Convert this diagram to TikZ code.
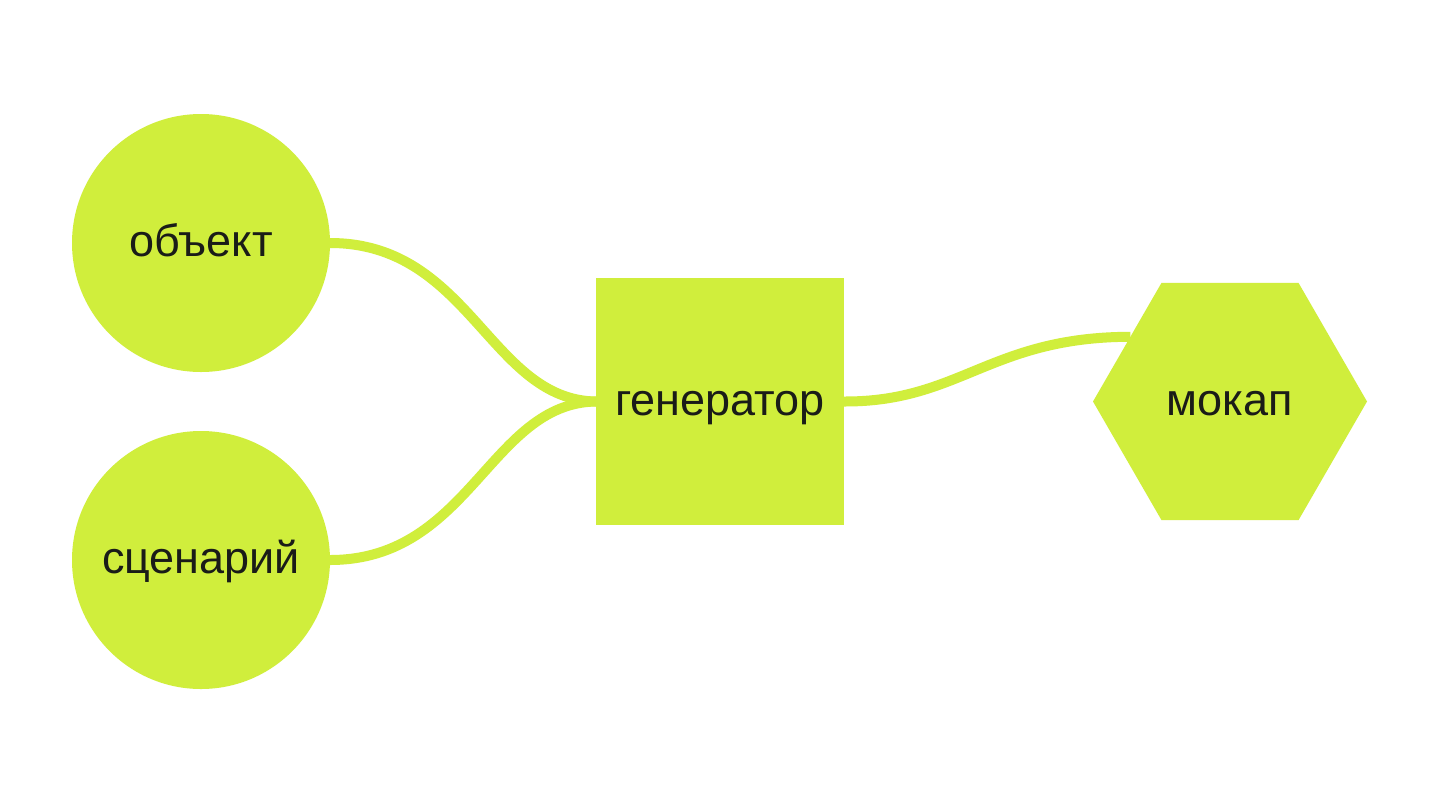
\documentclass[tikz,border=0pt]{standalone}
\usepackage{fontspec}
\setmainfont{Liberation Sans}
\usetikzlibrary{shapes.geometric}
\definecolor{lime}{RGB}{208,238,60}
\definecolor{ink}{RGB}{26,28,24}
\begin{document}
\begin{tikzpicture}[x=1pt,y=-1pt,
  blob/.style={fill=lime,draw=none,text=ink,font=\fontsize{45}{52}\selectfont,inner sep=0pt,outer sep=0pt,text height=27pt,text depth=0pt},
  roundnode/.style={blob,circle,minimum size=258pt},
  boxnode/.style={blob,rectangle,minimum width=248pt,minimum height=247pt},
  hexnode/.style={blob,regular polygon,regular polygon sides=6,minimum size=274pt},
  link/.style={draw=lime,line width=10pt}]
\fill[white] (0,0) rectangle (1440,804);
\useasboundingbox (0,0) rectangle (1440,804);
\node[roundnode] (obj) at (201,243) {объект};
\node[roundnode] (scn) at (201,560) {сценарий};
\node[boxnode] (gen) at (720,401.5) {генератор};
\node[hexnode] (mock) at (1230,401.5) {мокап};
\draw[link] (obj.east) .. controls (470,243) and (490,400) .. (gen.west);
\draw[link] (scn.east) .. controls (470,560) and (490,403) .. (gen.west);
\draw[link] (gen.east) .. controls (960,402) and (990,337) .. (mock.147);
\end{tikzpicture}
\end{document}
